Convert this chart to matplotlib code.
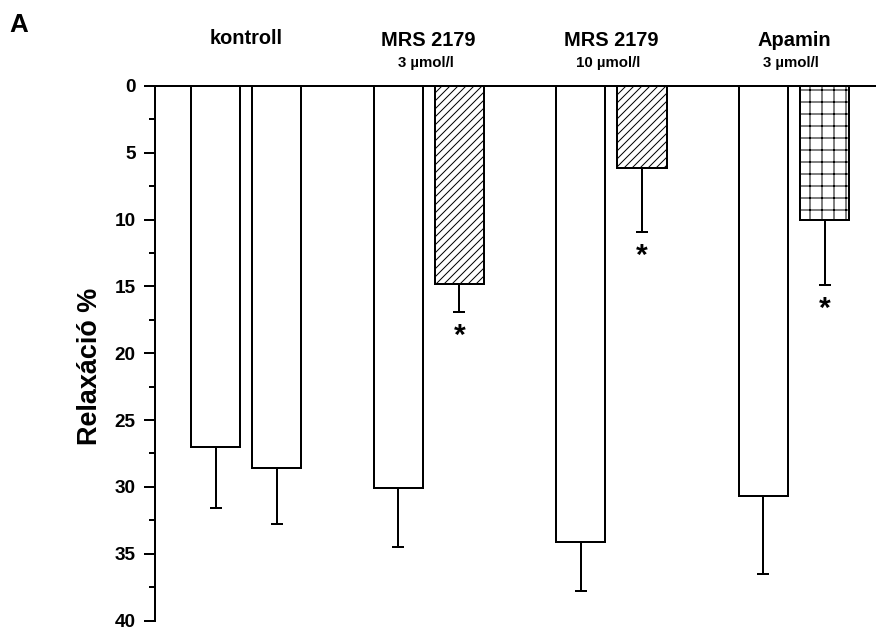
import numpy as np
import matplotlib
matplotlib.use("Agg")
import matplotlib.pyplot as plt

plt.rcParams['font.family'] = ['Liberation Sans', 'DejaVu Sans']
plt.rcParams['font.weight'] = 'bold'
plt.rcParams['hatch.linewidth'] = 1.0

# Data
groups = ['kontroll', 'MRS 2179', 'MRS 2179', 'Apamin']
concentrations = ['', '3 \u00b5mol/l', '10 \u00b5mol/l', '3 \u00b5mol/l']
before = [27.0, 30.1, 34.1, 30.7]
before_err = [4.6, 4.4, 3.7, 5.8]
after = [28.6, 14.8, 6.1, 10.0]
after_err = [4.2, 2.1, 4.85, 4.9]
significant = [False, True, True, True]

# Styles
after_hatch = ['', '///', '///', '+']

dpi = 72
fig = plt.figure(figsize=(876 / dpi, 628 / dpi), dpi=dpi)
y0, y40 = 86, 620.5
ax = fig.add_axes([154.8 / 876, 1 - y40 / 628, 1 - 154.8 / 876, (y40 - y0) / 628])

x = np.arange(len(groups))
off = 0.1675
w = 0.269

ax.bar(x - off, before, width=w, color='white', edgecolor='black', linewidth=2, zorder=2)
for xi, v, h in zip(x, after, after_hatch):
    ax.bar(xi + off, v, width=w, color='white', edgecolor='black', linewidth=2,
           hatch=h, zorder=2)

zeros = np.zeros(len(x))
ax.errorbar(x - off, before, yerr=[zeros, before_err], fmt='none', ecolor='black',
            elinewidth=2, capsize=6, capthick=2, zorder=1)
ax.errorbar(x + off, after, yerr=[zeros, after_err], fmt='none', ecolor='black',
            elinewidth=2, capsize=6, capthick=2, zorder=1)

for xi, v, e, s in zip(x, after, after_err, significant):
    if s:
        ax.annotate('*', (xi + off, v + e), xytext=(0, -10), textcoords='offset points',
                    ha='center', va='top', fontsize=30, fontweight='bold')

# group headers
for xi, g, c in zip(x, groups, concentrations):
    if c:
        ax.annotate(g, (xi, 0), xytext=(0, 40), textcoords='offset points',
                    ha='center', va='baseline', fontsize=20, fontweight='bold')
        ax.annotate(c, (xi, 0), xytext=(-3, 19), textcoords='offset points',
                    ha='center', va='baseline', fontsize=15, fontweight='bold')
    else:
        ax.annotate(g, (xi, 0), xytext=(0, 42.5), textcoords='offset points',
                    ha='center', va='baseline', fontsize=20, fontweight='bold')

ax.set_xlim(-0.5, 3.449)
ax.set_ylim(40, 0)
ax.set_xticks([])
ax.set_yticks(np.arange(0, 41, 5))
ax.set_yticks(np.arange(0, 41, 2.5), minor=True)
ax.tick_params(axis='y', which='major', length=11, width=2, labelsize=19, pad=8)
ax.tick_params(axis='y', which='minor', length=6, width=2)
for lab in ax.get_yticklabels():
    lab.set_fontweight('bold')

ax.spines['right'].set_visible(False)
ax.spines['bottom'].set_visible(False)
ax.spines['left'].set_linewidth(2)
ax.spines['top'].set_linewidth(2)

ax.set_ylabel('Relax\u00e1ci\u00f3 %', fontsize=27, fontweight='bold')
ax.yaxis.set_label_coords(-0.072, 0.475)

fig.text(9 / 876, 1 - 32 / 628, 'A', fontsize=26, fontweight='bold', va='baseline', ha='left')

fig.savefig('out.png', dpi=dpi)
